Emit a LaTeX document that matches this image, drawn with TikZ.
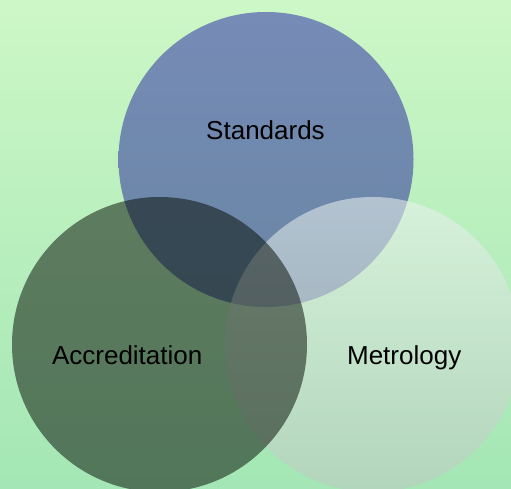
\documentclass[tikz,border=0pt]{standalone}
\usepackage{fontspec}
\setmainfont{Liberation Sans}
\definecolor{bgtop}{RGB}{205,247,198}
\definecolor{bgbot}{RGB}{164,230,181}
\definecolor{stdtop}{RGB}{118,139,182}
\definecolor{stdbot}{RGB}{105,134,164}
\definecolor{mettop}{RGB}{236,243,240}
\definecolor{metbot}{RGB}{190,200,194}
\definecolor{accfill}{RGB}{4,12,3}
\tikzset{
  venn/.style={circle, minimum size=295pt, inner sep=0pt, draw=none},
  lbl/.style={anchor=base, text=black, font=\fontsize{26}{30}\selectfont, inner sep=0pt}
}
\begin{document}
\begin{tikzpicture}[x=1pt,y=-1pt]
\useasboundingbox (0,0) rectangle (511,489);
\shade[top color=bgtop, bottom color=bgbot] (0,0) rectangle (511,489);
\node[venn, top color=stdtop, bottom color=stdbot] (std) at (266,159.5) {};
\node[venn, top color=mettop, bottom color=metbot, fill opacity=0.55] (met) at (372.5,344.5) {};
\node[venn, fill=accfill, fill opacity=0.51] (acc) at (159.5,344.5) {};
\node[lbl] (lstd) at (265.5,140) {Standards};
\node[lbl] (lacc) at (127.2,364) {Accreditation};
\node[lbl] (lmet) at (404.2,364) {Metrology};
\end{tikzpicture}
\end{document}
